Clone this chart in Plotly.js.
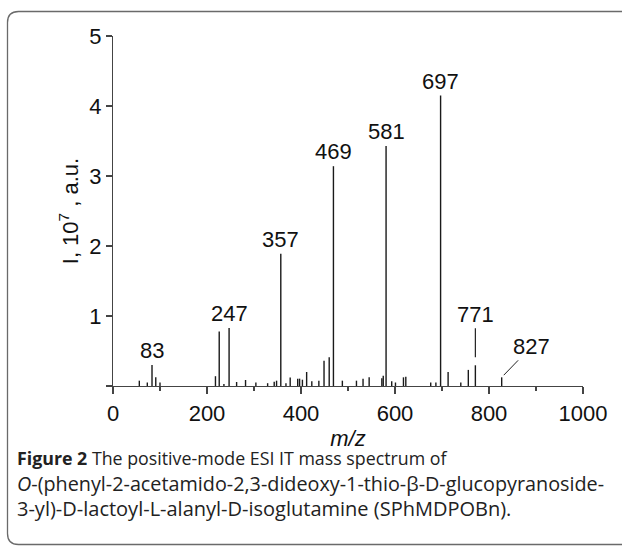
<!DOCTYPE html>
<html>
<head>
<meta charset="utf-8">
<script src="https://cdn.plot.ly/plotly-3.0.1.min.js"></script>
<style>
  html, body { margin: 0; padding: 0; background: #fff; overflow: hidden; }
  #chart { width: 622px; height: 547px; }
</style>
</head>
<body>
<div id="chart"></div>
<script>
// m/z of each peak and its intensity (x 10^7 a.u.)
const mz = [56, 73, 83, 91, 100, 218, 226, 236, 247, 263, 282, 304, 329, 343, 348, 357, 368, 377, 393, 397,
            403, 412, 423, 438, 449, 460, 469, 488, 518, 532, 545, 572, 575, 581, 593, 601, 618, 623,
            676, 687, 697, 713, 740, 756, 771, 827];
const intensity = [0.076, 0.05, 0.30, 0.124, 0.05, 0.14, 0.78, 0.03, 0.83, 0.057, 0.086, 0.05, 0.04, 0.06, 0.076,
                   1.89, 0.04, 0.12, 0.105, 0.105, 0.09, 0.20, 0.067, 0.076, 0.36, 0.41, 3.14, 0.076, 0.076,
                   0.105, 0.124, 0.11, 0.148, 3.43, 0.067, 0.05, 0.124, 0.133, 0.05, 0.05, 4.15, 0.2, 0.05,
                   0.23, 0.296, 0.124];
// labelled peaks
const labelPeaks = [83, 247, 357, 469, 581, 697];
const arrowPeaks = [771, 827];
const xTickVals = [0, 200, 400, 600, 800, 1000];
const yTickVals = [0, 1, 2, 3, 4, 5];
const yTickText = ['', '1', '2', '3', '4', '5'];
const captionLines = [
  '<b>Figure 2</b> The positive-mode ESI IT mass spectrum of',
  '<i>O</i>-(phenyl-2-acetamido-2,3-dideoxy-1-thio-β-D-glucopyranoside-',
  '3-yl)-D-lactoyl-L-alanyl-D-isoglutamine (SPhMDPOBn).'
];

// plot-area geometry (pixels) used only to convert page pixels to paper coords
const L = 113, R = 583, T = 36, B = 386;
const px = x => (x - L) / (R - L);
const py = y => (B - y) / (B - T);

// build stick segments
const sx = [], sy = [];
mz.forEach((m, i) => { sx.push(m, m, null); sy.push(0, intensity[i], null); });

const heightOf = m => intensity[mz.indexOf(m)];
const FONT = 'Liberation Sans, Arial, sans-serif';
const CAPFONT = 'Open Sans, Noto Sans, sans-serif';

const annotations = [];
labelPeaks.forEach(m => annotations.push({
  x: m, y: heightOf(m), xref: 'x', yref: 'y', text: String(m), showarrow: false,
  xanchor: 'center', yanchor: 'bottom', yshift: 0,
  font: { family: FONT, size: 22, color: '#111' }
}));
annotations.push({
  x: 771, y: heightOf(771), xref: 'x', yref: 'y', text: '771', showarrow: true,
  arrowhead: 0, arrowwidth: 1.2, arrowcolor: '#222', ax: 0, ay: -51, standoff: 8,
  font: { family: FONT, size: 22, color: '#111' }
});
annotations.push({
  x: 827, y: heightOf(827), xref: 'x', yref: 'y', text: '827', showarrow: true,
  arrowhead: 0, arrowwidth: 1, arrowcolor: '#222', ax: 30, ay: -31, standoff: 3,
  font: { family: FONT, size: 22, color: '#111' }
});
// caption
const capY = [458, 483, 508];
const capSize = [17.8, 19.8, 20];
captionLines.forEach((t, i) => annotations.push({
  xref: 'paper', yref: 'paper', x: px(15), y: py(capY[i]),
  xanchor: 'left', yanchor: 'middle', text: t, showarrow: false, align: 'left',
  font: { family: CAPFONT, size: capSize[i], color: '#222' }
}));

// rounded outer frame (open on the right, runs off the page)
const r = 11, fl = 7.5, ft = 11.5, fb = 544.5, fr = 680;
const framePath =
  `M ${px(fr)},${py(ft)} L ${px(fl + r)},${py(ft)} Q ${px(fl)},${py(ft)} ${px(fl)},${py(ft + r)} ` +
  `L ${px(fl)},${py(fb - r)} Q ${px(fl)},${py(fb)} ${px(fl + r)},${py(fb)} L ${px(fr)},${py(fb)}`;

const data = [{
  type: 'scatter', mode: 'lines', x: sx, y: sy,
  line: { color: '#1a1a1a', width: 1.4 }, hoverinfo: 'skip', showlegend: false
}];

const layout = {
  width: 622, height: 547,
  margin: { l: L, r: 622 - R, t: T, b: 547 - B },
  paper_bgcolor: '#fff', plot_bgcolor: '#fff',
  font: { family: FONT, size: 22, color: '#111' },
  xaxis: {
    range: [0, 1000], tickvals: xTickVals, ticks: 'outside', ticklen: 7, tickwidth: 1.2,
    tickcolor: '#444', showline: true, linecolor: '#444', linewidth: 1.2,
    showgrid: false, zeroline: false, fixedrange: true,
    minor: { dtick: 100, ticks: 'outside', ticklen: 4, tickcolor: '#444', tickwidth: 1.2, showgrid: false },
    tickfont: { family: FONT, size: 22, color: '#111' },
    title: { text: '<i>m/z</i>', font: { family: FONT, size: 22, color: '#111' }, standoff: 6 }
  },
  yaxis: {
    range: [0, 5], tickvals: yTickVals, ticktext: yTickText, ticks: 'outside', ticklen: 6, tickwidth: 1.2,
    tickcolor: '#444', showline: true, linecolor: '#444', linewidth: 1.2,
    showgrid: false, zeroline: false, fixedrange: true,
    tickfont: { family: FONT, size: 22, color: '#111' },
    title: { text: 'I, 10<sup>7</sup> , a.u.', font: { family: FONT, size: 22, color: '#111' }, standoff: 4 }
  },
  shapes: [{
    type: 'path', xref: 'paper', yref: 'paper', path: framePath,
    line: { color: '#6a6a6a', width: 1.3 }, fillcolor: 'rgba(0,0,0,0)', layer: 'below'
  }],
  annotations: annotations
};

Plotly.newPlot('chart', data, layout, { staticPlot: true, displayModeBar: false });
</script>
</body>
</html>
